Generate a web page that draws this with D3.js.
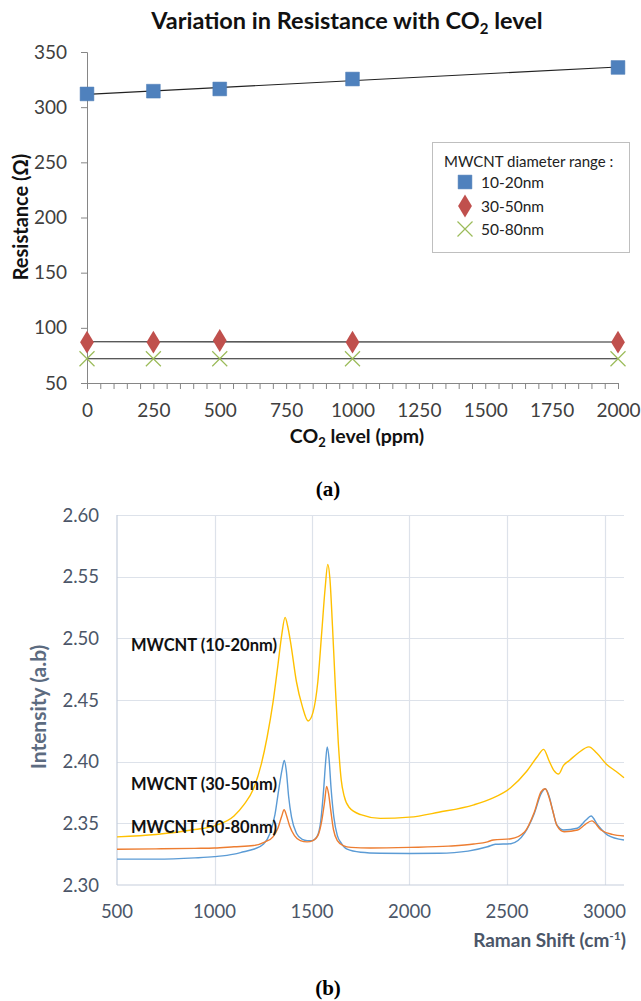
<!DOCTYPE html>
<html>
<meta charset="utf-8">
<style>
body { margin: 0; background: #fff; }
svg text { font-family: Lato, 'Open Sans', sans-serif; }
.serif { font-family: 'Liberation Serif', 'DejaVu Serif', serif !important; }
</style>
<body>
<svg id="chart" width="641" height="1001"></svg>
<script src="https://d3js.org/d3.v7.min.js"></script>
<script>

// ---- panel (a) data ----
var co2Levels = [0, 250, 500, 1000, 2000];
var res10to20 = [312, 314.5, 316.5, 325.5, 336];
var res30to50 = [87, 87, 88.5, 87, 87];
var res50to80 = [72, 72, 72, 72, 72];
var seriesNames = ["10-20nm", "30-50nm", "50-80nm"];

// ---- panel (b) data : [raman shift, intensity] ----
var raman10to20 = [[500,2.339],[700,2.341],[900,2.345],[1000,2.348],[1100,2.356],[1150,2.365],[1200,2.378],[1240,2.398],[1270,2.42],[1300,2.448],[1325,2.478],[1345,2.503],[1362,2.517],[1375,2.51],[1390,2.497],[1420,2.465],[1450,2.445],[1480,2.433],[1505,2.44],[1530,2.465],[1550,2.505],[1567,2.54],[1581,2.560],[1592,2.548],[1605,2.51],[1620,2.46],[1635,2.415],[1650,2.385],[1665,2.372],[1690,2.363],[1750,2.357],[1850,2.354],[2000,2.355],[2150,2.359],[2330,2.365],[2420,2.370],[2520,2.379],[2600,2.392],[2655,2.404],[2688,2.410],[2715,2.401],[2740,2.393],[2765,2.390],[2790,2.397],[2820,2.401],[2865,2.407],[2920,2.412],[2960,2.407],[3010,2.398],[3060,2.392],[3100,2.387]];
var raman30to50 = [[500,2.321],[700,2.321],[900,2.322],[1000,2.323],[1100,2.325],[1150,2.327],[1200,2.329],[1250,2.333],[1285,2.342],[1310,2.357],[1330,2.378],[1347,2.394],[1358,2.401],[1368,2.393],[1380,2.372],[1395,2.355],[1420,2.342],[1450,2.337],[1475,2.336],[1500,2.336],[1525,2.339],[1545,2.352],[1560,2.378],[1570,2.400],[1578,2.412],[1587,2.403],[1598,2.378],[1612,2.355],[1630,2.34],[1650,2.334],[1680,2.329],[1750,2.3265],[1850,2.3257],[2000,2.3255],[2150,2.3257],[2300,2.3275],[2400,2.331],[2440,2.333],[2520,2.3335],[2590,2.342],[2640,2.358],[2675,2.374],[2696,2.378],[2716,2.372],[2735,2.36],[2755,2.349],[2790,2.3446],[2860,2.346],[2905,2.3527],[2931,2.356],[2965,2.3486],[3016,2.3405],[3100,2.3365]];
var raman50to80 = [[500,2.329],[700,2.3293],[900,2.3297],[1000,2.330],[1100,2.331],[1200,2.332],[1260,2.335],[1300,2.339],[1325,2.346],[1345,2.356],[1357,2.361],[1370,2.356],[1385,2.348],[1410,2.34],[1440,2.336],[1475,2.335],[1505,2.336],[1530,2.340],[1550,2.352],[1565,2.368],[1575,2.380],[1585,2.374],[1595,2.362],[1610,2.345],[1630,2.336],[1660,2.332],[1700,2.3305],[1800,2.330],[2000,2.3305],[2200,2.3315],[2330,2.3332],[2400,2.335],[2430,2.3365],[2520,2.3375],[2590,2.343],[2640,2.359],[2675,2.3756],[2696,2.378],[2716,2.371],[2735,2.36],[2755,2.3486],[2793,2.3432],[2862,2.3446],[2900,2.349],[2935,2.352],[2982,2.3446],[3040,2.341],[3100,2.3397]];
var ramanLabels = ["MWCNT (10-20nm)", "MWCNT (30-50nm)", "MWCNT (50-80nm)"];
var ramanLabelY = [2.495, 2.382, 2.347];

var svg = d3.select("#chart");

// ================= panel (a) =================
var xA = d3.scaleLinear().domain([0, 2000]).range([87, 618]),
    yA = d3.scaleLinear().domain([50, 350]).range([383, 52]);

var axisGrey = "#868686";

var gx = svg.append("g")
    .attr("transform", "translate(0," + yA(50) + ")")
    .call(d3.axisBottom(xA)
        .tickValues(d3.range(0, 2001, 50))
        .tickSize(6).tickPadding(15)
        .tickFormat(function(d) { return d % 250 === 0 ? d : ""; }));
var gy = svg.append("g")
    .attr("transform", "translate(" + xA(0) + ",0)")
    .call(d3.axisLeft(yA).tickValues(d3.range(50, 351, 50)).tickSize(6).tickPadding(14));
[gx, gy].forEach(function(g) {
    g.select(".domain").attr("stroke", axisGrey);
    g.selectAll(".tick line").attr("stroke", axisGrey);
    g.selectAll(".tick text").attr("font-size", 19).attr("fill", "#404040")
        .style("font-family", "Lato, sans-serif");
});

// trend lines (least squares fit of each series)
function fit(xs, ys) {
    var mx = d3.mean(xs), my = d3.mean(ys), sxy = 0, sxx = 0;
    xs.forEach(function(x, i) { sxy += (x - mx) * (ys[i] - my); sxx += (x - mx) * (x - mx); });
    var b = sxy / sxx;
    return function(x) { return my + b * (x - mx); };
}
[res10to20, res30to50, res50to80].forEach(function(ys) {
    var f = fit(co2Levels, ys);
    svg.append("line")
        .attr("x1", xA(0)).attr("y1", yA(f(0)))
        .attr("x2", xA(2000)).attr("y2", yA(f(2000)))
        .attr("stroke", "#222").attr("stroke-width", 1.1);
});

var sq = d3.symbol().type(d3.symbolSquare).size(190),
    dia = d3.symbol().type(d3.symbolDiamond).size(150);

function drawMarker(g, type, x, y) {
    if (type === 0) {
        g.append("path").attr("d", sq).attr("transform", "translate(" + x + "," + y + ")")
            .attr("fill", "#4F81BD").attr("stroke", "#4A7AB5").attr("stroke-width", 0.5);
    } else if (type === 1) {
        g.append("path").attr("d", dia).attr("transform", "translate(" + x + "," + y + ") scale(1.05,1)")
            .attr("fill", "#C0504D");
    } else {
        var h = 7.5;
        g.append("path")
            .attr("d", "M" + (x - h) + "," + (y - h) + "L" + (x + h) + "," + (y + h) +
                       "M" + (x - h) + "," + (y + h) + "L" + (x + h) + "," + (y - h))
            .attr("stroke", "#9BBB59").attr("stroke-width", 1.2).attr("fill", "none");
    }
}

var marks = svg.append("g");
[res10to20, res30to50, res50to80].forEach(function(ys, si) {
    ys.forEach(function(v, i) { drawMarker(marks, si, xA(co2Levels[i]), yA(v)); });
});

// title
var title = svg.append("text").attr("x", 347).attr("y", 29)
    .attr("text-anchor", "middle").attr("font-size", 23.5).attr("font-weight", "bold").attr("fill", "#111");
title.append("tspan").text("Variation in Resistance with CO");
title.append("tspan").attr("font-size", 15).attr("dy", 5).text("2");
title.append("tspan").attr("dy", -5).text(" level");

// axis titles
var xt = svg.append("text").attr("x", 357).attr("y", 443)
    .attr("text-anchor", "middle").attr("font-size", 19.5).attr("font-weight", "bold").attr("fill", "#111");
xt.append("tspan").text("CO");
xt.append("tspan").attr("font-size", 13).attr("dy", 4).text("2");
xt.append("tspan").attr("dy", -4).text(" level (ppm)");

svg.append("text").attr("transform", "translate(28,217) rotate(-90)")
    .attr("text-anchor", "middle").attr("font-size", 20).attr("font-weight", "bold").attr("fill", "#111")
    .text("Resistance (\u03A9)");

// legend
var lg = svg.append("g");
lg.append("rect").attr("x", 432.5).attr("y", 142.5).attr("width", 197).attr("height", 110)
    .attr("fill", "#fff").attr("stroke", "#BFBFBF");
lg.append("text").attr("x", 444).attr("y", 167).attr("font-size", 15).attr("fill", "#222")
    .text("MWCNT diameter range :");
var legY = [182, 206, 229];
seriesNames.forEach(function(n, i) {
    drawMarker(lg, i, 465, legY[i]);
    lg.append("text").attr("x", 481).attr("y", legY[i] + 5.5).attr("font-size", 15.5).attr("fill", "#222").text(n);
});

svg.append("text").attr("class", "serif").attr("x", 328).attr("y", 496)
    .attr("text-anchor", "middle").attr("font-size", 21).attr("font-weight", "bold").text("(a)");

// ================= panel (b) =================
var xB = d3.scaleLinear().domain([500, 3100]).range([117, 624]),
    yB = d3.scaleLinear().domain([2.30, 2.60]).range([885, 515]);
var gridCol = "#DDE2EA", labCol = "#4B5668";

var grid = svg.append("g");
d3.range(2.35, 2.601, 0.05).forEach(function(v) {
    grid.append("line").attr("x1", xB(500)).attr("x2", xB(3100))
        .attr("y1", Math.round(yB(v)) + 0.5).attr("y2", Math.round(yB(v)) + 0.5)
        .attr("stroke", gridCol).attr("stroke-width", 1.2);
});
[1000, 1500, 2000, 2500, 3000].forEach(function(v) {
    grid.append("line").attr("y1", yB(2.30)).attr("y2", yB(2.60))
        .attr("x1", Math.round(xB(v)) + 0.5).attr("x2", Math.round(xB(v)) + 0.5)
        .attr("stroke", gridCol).attr("stroke-width", 1.2);
});
grid.append("line").attr("x1", xB(500)).attr("x2", xB(3100)).attr("y1", yB(2.30)).attr("y2", yB(2.30))
    .attr("stroke", "#C5CEDC").attr("stroke-width", 1.2);
grid.append("line").attr("x1", xB(500)).attr("x2", xB(500)).attr("y1", yB(2.30)).attr("y2", yB(2.60))
    .attr("stroke", "#C5CEDC").attr("stroke-width", 1.2);

var yTicks = d3.range(2.30, 2.601, 0.05);
svg.append("g").selectAll("text").data(yTicks).join("text")
    .attr("x", 99).attr("y", function(d) { return yB(d) + 6.5; })
    .attr("text-anchor", "end").attr("font-size", 18.5).attr("fill", labCol)
    .text(function(d) { return d3.format(".2f")(d); });
var xTicks = d3.range(500, 3001, 500);
svg.append("g").selectAll("text").data(xTicks).join("text")
    .attr("x", function(d) { return xB(d); }).attr("y", 918)
    .attr("text-anchor", "middle").attr("font-size", 18.5).attr("fill", labCol)
    .text(function(d) { return d; });

var line = d3.line()
    .x(function(d) { return xB(d[0]); })
    .y(function(d) { return yB(d[1]); })
    .curve(d3.curveMonotoneX);
var ramanColors = ["#FFC000", "#5B9BD5", "#ED7D31"];
[raman10to20, raman30to50, raman50to80].forEach(function(s, i) {
    svg.append("path").datum(s).attr("d", line)
        .attr("fill", "none").attr("stroke", ramanColors[i]).attr("stroke-width", 1.4);
});

ramanLabels.forEach(function(t, i) {
    svg.append("text").attr("x", 131).attr("y", yB(ramanLabelY[i]) + 6)
        .attr("font-size", 16.5).attr("font-weight", "bold").attr("fill", "#111").text(t);
});

var rt = svg.append("text").attr("x", 626).attr("y", 947).attr("text-anchor", "end")
    .attr("font-size", 19).attr("font-weight", "bold").attr("fill", labCol);
rt.append("tspan").text("Raman Shift (cm");
rt.append("tspan").attr("font-size", 12).attr("dy", -7).text("-1");
rt.append("tspan").attr("dy", 7).text(")");

svg.append("text").attr("transform", "translate(46,707) rotate(-90)")
    .attr("text-anchor", "middle").attr("font-size", 21).attr("font-weight", "bold").attr("fill", "#5C6B80")
    .text("Intensity (a.b)");

svg.append("text").attr("class", "serif").attr("x", 328).attr("y", 995)
    .attr("text-anchor", "middle").attr("font-size", 21).attr("font-weight", "bold").text("(b)");

</script>
</body>
</html>
